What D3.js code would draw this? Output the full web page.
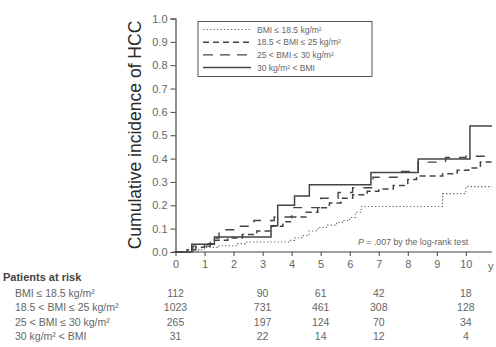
<!DOCTYPE html>
<html>
<head>
<meta charset="utf-8">
<script src="https://cdn.jsdelivr.net/npm/d3@7"></script>
<style>
  body { margin: 0; background: #fff; }
  svg { display: block; font-family: "Liberation Sans", Arial, sans-serif; }
</style>
</head>
<body>
<div id="display"></div>
<script>
// step data: [years, cumulative incidence]
var bmi_low = [[0,0],[0.8,0.01],[1.0,0.02],[1.5,0.027],[2.1,0.036],[2.45,0.043],[3.9,0.05],[4.1,0.06],
    [4.35,0.07],[4.6,0.09],[4.9,0.105],[5.2,0.115],[5.55,0.127],[5.8,0.135],[6.0,0.148],[6.2,0.17],
    [6.4,0.195],[9.2,0.25],[10.0,0.28],[10.9,0.28]];
var bmi_normal = [[0,0],[0.4,0.01],[0.7,0.02],[1.0,0.035],[1.3,0.05],[1.8,0.06],[2.3,0.075],[2.8,0.09],
    [3.3,0.11],[3.7,0.13],[4.0,0.15],[4.5,0.17],[4.9,0.19],[5.3,0.21],[5.7,0.23],[6.1,0.245],[6.6,0.26],
    [7.0,0.27],[7.5,0.285],[8.0,0.31],[8.3,0.325],[9.2,0.335],[9.7,0.35],[10.1,0.36],[10.5,0.385],[10.9,0.385]];
var bmi_over = [[0,0],[0.6,0.025],[1.2,0.06],[1.5,0.095],[2.2,0.11],[2.7,0.135],[3.4,0.15],[4.0,0.19],
    [5.0,0.23],[5.6,0.255],[6.1,0.275],[6.8,0.32],[7.7,0.345],[8.35,0.385],[9.3,0.405],[10.0,0.41],[10.9,0.41]];
var bmi_obese = [[0,0],[0.56,0.033],[1.34,0.064],[3.29,0.112],[3.52,0.2],[4.1,0.24],[4.61,0.288],
    [6.73,0.34],[8.36,0.398],[10.14,0.54],[10.9,0.54]];

var legend_labels = ["BMI \u2264 18.5 kg/m\u00b2", "18.5 < BMI \u2264 25 kg/m\u00b2", "25 < BMI \u2264 30 kg/m\u00b2", "30 kg/m\u00b2 < BMI"];
var risk_labels = ["BMI \u2264 18.5 kg/m\u00b2", "18.5 < BMI \u2264 25 kg/m\u00b2", "25 < BMI \u2264 30 kg/m\u00b2", "30 kg/m\u00b2 < BMI"];
var risk_years = [0, 3, 5, 7, 10];
var risk_counts = [[112, 90, 61, 42, 18], [1023, 731, 461, 308, 128], [265, 197, 124, 70, 34], [31, 22, 14, 12, 4]];
var x_ticks = [0,1,2,3,4,5,6,7,8,9,10];
var y_ticks = [0,0.1,0.2,0.3,0.4,0.5,0.6,0.7,0.8,0.9,1.0];

var width = 496, height = 347;
var series = [bmi_low, bmi_normal, bmi_over, bmi_obese];
var dashes = ["1.3,2.2", "6,4", "9,9", null];
var widths = [1.1, 1.5, 1.4, 1.5];
var ink = "#444";

var svg = d3.select("#display").append("svg")
    .attr("width", width).attr("height", height);

var x = d3.scaleLinear().domain([0, 10.9]).range([175.5, 492]);
var y = d3.scaleLinear().domain([0, 1]).range([252, 18.5]);

// axes
var xAxis = svg.append("g").attr("transform", "translate(0," + y(0) + ")")
    .call(d3.axisBottom(x).tickValues(x_ticks).tickSize(4).tickPadding(4).tickFormat(d3.format("d")));
var yAxis = svg.append("g").attr("transform", "translate(" + x(0) + ",0)")
    .call(d3.axisLeft(y).tickValues(y_ticks).tickSize(5).tickPadding(3).tickFormat(d3.format(".1f")));

[xAxis, yAxis].forEach(function(a) {
    a.select(".domain").attr("stroke", ink).attr("stroke-width", 1.2);
    a.selectAll(".tick line").attr("stroke", ink);
    a.selectAll("text").attr("fill", "#666").style("font-size", "11px")
        .style("font-family", "'Liberation Sans', Arial, sans-serif");
});
xAxis.select(".domain").attr("d", "M" + (x(0) - 3) + ",0H" + x(10.9));

// axis unit, cut at the right edge in the source
svg.append("text").attr("x", 488).attr("y", 270).attr("fill", "#666")
    .style("font-size", "11px").text("y");

svg.append("text")
    .attr("transform", "translate(141," + 135 + ") rotate(-90)")
    .attr("text-anchor", "middle")
    .attr("fill", "#2a2a2a")
    .style("font-size", "17.5px")
    .text("Cumulative incidence of HCC");

// curves
var line = d3.line().curve(d3.curveStepAfter)
    .x(function(d) { return x(d[0]); })
    .y(function(d) { return y(d[1]); });

series.forEach(function(s, i) {
    svg.append("path").datum(s)
        .attr("d", line)
        .attr("fill", "none")
        .attr("stroke", i == 0 ? "#666" : ink)
        .attr("stroke-width", widths[i])
        .attr("stroke-dasharray", dashes[i]);
});

// legend
var lg = svg.append("g");
lg.append("rect").attr("x", 198).attr("y", 21.5).attr("width", 174).attr("height", 55)
    .attr("fill", "#fff").attr("stroke", "#555").attr("stroke-width", 1);
legend_labels.forEach(function(l, i) {
    var ly = 29.5 + i * 12.7;
    lg.append("line").attr("x1", 203).attr("x2", 251).attr("y1", ly).attr("y2", ly)
        .attr("stroke", i == 0 ? "#666" : ink).attr("stroke-width", widths[i])
        .attr("stroke-dasharray", i == 2 ? "10,7" : dashes[i]);
    lg.append("text").attr("x", 257).attr("y", ly + 3).attr("fill", "#666")
        .style("font-size", "8.5px").text(l);
});

// p value
var pt = svg.append("text").attr("x", 358).attr("y", 245).attr("fill", "#666").style("font-size", "8.8px");
pt.append("tspan").style("font-style", "italic").text("P");
pt.append("tspan").text(" = .007 by the log-rank test");

// patients at risk table
svg.append("text").attr("x", 3).attr("y", 281).attr("fill", "#444")
    .style("font-size", "11px").style("font-weight", "bold").text("Patients at risk");

risk_labels.forEach(function(l, i) {
    var ry = 296.5 + i * 14.6;
    svg.append("text").attr("x", 15).attr("y", ry).attr("fill", "#666")
        .style("font-size", "10.5px").text(l);
    risk_counts[i].forEach(function(c, j) {
        svg.append("text").attr("x", x(risk_years[j])).attr("y", ry)
            .attr("text-anchor", "middle").attr("fill", "#666")
            .style("font-size", "10.5px").text(c);
    });
});
</script>
</body>
</html>
